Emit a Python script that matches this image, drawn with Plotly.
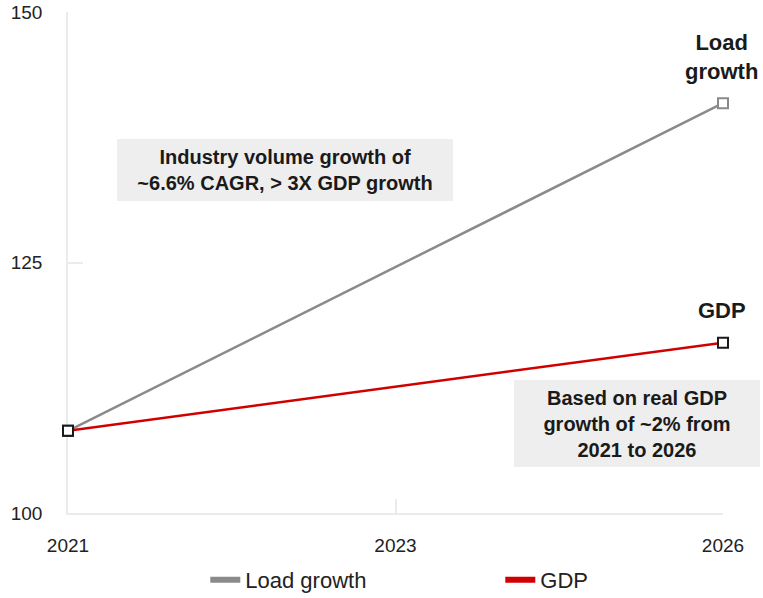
import plotly.graph_objects as go

# Index values (2021 base) for the two series
years = ["2021", "2023", "2026"]
series_years = ["2021", "2026"]
load_growth = [108.2, 140.9]
gdp = [108.2, 117.0]

y_ticks = [100, 125, 150]

FONT = "Liberation Sans, Arial, sans-serif"
GRAY = "#8a8a8a"
RED = "#d10000"
BOX = "#eeeeee"
AXIS = "#ebebeb"

fig = go.Figure()

# Data lines (legend entries drawn separately with thicker strokes)
fig.add_trace(go.Scatter(
    x=series_years, y=load_growth, mode="lines+markers", name="Load growth",
    showlegend=False, cliponaxis=False,
    line=dict(color=GRAY, width=2.5),
    marker=dict(symbol="square", size=10, color="white",
                line=dict(color=["#1a1a1a", GRAY], width=2)),
))
fig.add_trace(go.Scatter(
    x=series_years, y=gdp, mode="lines+markers", name="GDP",
    showlegend=False, cliponaxis=False,
    line=dict(color=RED, width=2.5),
    marker=dict(symbol="square", size=10, color="white",
                line=dict(color="#1a1a1a", width=2)),
))

# Legend-only entries
fig.add_trace(go.Scatter(x=[None], y=[None], mode="lines", name="Load growth",
                         line=dict(color=GRAY, width=6)))
fig.add_trace(go.Scatter(x=[None], y=[None], mode="lines", name="GDP",
                         line=dict(color=RED, width=6)))

# Callout boxes
fig.add_annotation(
    xref="paper", yref="paper", x=0.3313, y=0.6856,
    xanchor="center", yanchor="middle", showarrow=False,
    text="<b>Industry volume growth of<br>~6.6% CAGR, > 3X GDP growth</b>",
    width=336, height=62, bgcolor=BOX, borderpad=0, borderwidth=0,
    font=dict(family=FONT, size=20, color="#1a1a1a"), align="center",
)
fig.add_annotation(
    xref="paper", yref="paper", x=0.8687, y=0.1786,
    xanchor="center", yanchor="middle", showarrow=False,
    text="<b>Based on real GDP<br>growth of ~2% from<br>2021 to 2026</b>",
    width=246, height=87, bgcolor=BOX, borderpad=0, borderwidth=0,
    font=dict(family=FONT, size=20, color="#1a1a1a"), align="center",
)

# Series end labels
fig.add_annotation(
    x=0.998, y=load_growth[-1], xref="paper", yref="y",
    xanchor="center", yanchor="bottom", yshift=17, showarrow=False,
    text="<b>Load<br>growth</b>",
    font=dict(family=FONT, size=22, color="#1a1a1a"), align="center",
)
fig.add_annotation(
    x=0.998, y=gdp[-1], xref="paper", yref="y",
    xanchor="center", yanchor="bottom", yshift=18, showarrow=False,
    text="<b>GDP</b>",
    font=dict(family=FONT, size=22, color="#1a1a1a"), align="center",
)

fig.update_layout(
    width=763, height=598,
    margin=dict(l=68, r=40, t=12, b=85, autoexpand=False),
    paper_bgcolor="white", plot_bgcolor="white",
    font=dict(family=FONT, size=18, color="#222222"),
    xaxis=dict(
        type="category", categoryorder="array", categoryarray=years,
        tickvals=years, ticktext=years,
        range=[0, 2], showgrid=False, zeroline=False,
        showline=True, linecolor=AXIS, linewidth=1.5,
        ticks="inside", ticklen=14, tickcolor=AXIS, tickwidth=1.5,
        ticklabelstandoff=14, layer="below traces",
        tickfont=dict(family=FONT, size=19, color="#222222"),
    ),
    yaxis=dict(
        range=[100, 150], tickvals=y_ticks,
        showgrid=False, zeroline=False,
        showline=True, linecolor=AXIS, linewidth=1.5,
        ticks="inside", ticklen=15, tickcolor=AXIS, tickwidth=1.5,
        ticklabelstandoff=20, layer="below traces",
        tickfont=dict(family=FONT, size=19, color="#222222"),
    ),
    legend=dict(
        orientation="h", x=0.66, xanchor="center",
        yref="container", y=0.03, yanchor="middle",
        font=dict(family=FONT, size=22, color="#222222"),
        entrywidth=250, bgcolor="rgba(0,0,0,0)",
    ),
)

fig.write_html("out.html")
